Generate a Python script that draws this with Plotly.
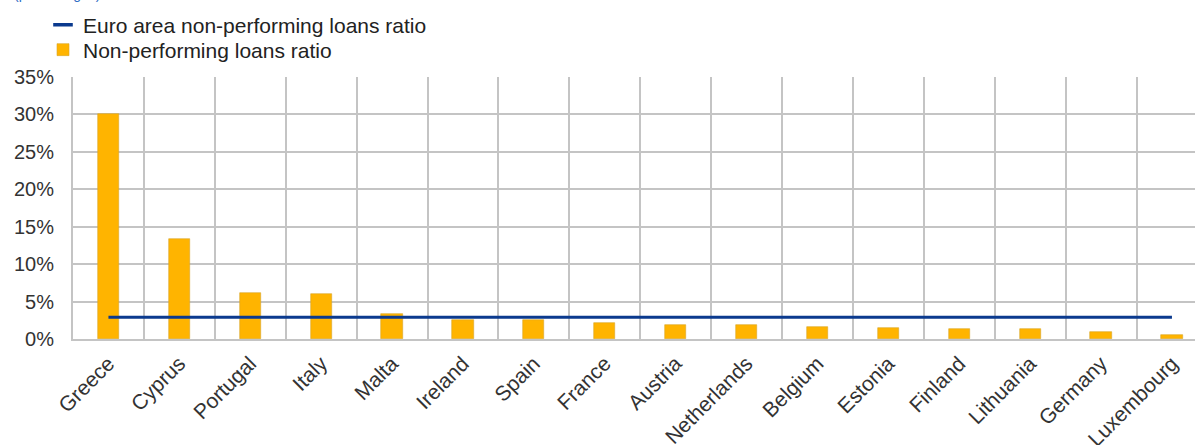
import plotly.graph_objects as go

# Non-performing loans ratio by country, with the euro area average
countries = ["Greece", "Cyprus", "Portugal", "Italy", "Malta", "Ireland", "Spain",
             "France", "Austria", "Netherlands", "Belgium", "Estonia", "Finland",
             "Lithuania", "Germany", "Luxembourg"]
npl_ratio = [30.0, 13.3, 6.2, 6.0, 3.3, 2.6, 2.6, 2.1, 1.9, 1.9, 1.6, 1.5, 1.3, 1.3, 1.0, 0.5]
euro_area_ratio = 2.9

y_tick_values = [0, 5, 10, 15, 20, 25, 30, 35]
y_tick_labels = ["0%", "5%", "10%", "15%", "20%", "25%", "30%", "35%"]

BAR_COLOR = "#FFB400"
LINE_COLOR = "#0B3A8E"
GRID_COLOR = "#C4C4C4"
TEXT_COLOR = "#333333"
FONT = "Liberation Sans, Arial, sans-serif"

W, H = 1195, 445
M_L, M_R, M_T, M_B = 73, 0, 77, 106
plot_w = W - M_L - M_R
plot_h = H - M_T - M_B
cat_px = 70.9  # width of one category slot

fig = go.Figure()

fig.add_trace(go.Bar(
    x=countries, y=npl_ratio, name="Non-performing loans ratio",
    width=0.3, marker=dict(color=BAR_COLOR, line=dict(color="#D9A62A", width=0.6)),
    legend="legend2",
))

fig.add_trace(go.Scatter(
    x=countries, y=[euro_area_ratio] * len(countries), mode="lines",
    line=dict(color=LINE_COLOR, width=3), showlegend=False,
))

# legend entry for the euro area line, drawn as a short dash
fig.add_trace(go.Scatter(
    x=[None], y=[None], mode="markers", name="Euro area non-performing loans ratio",
    marker=dict(symbol="line-ew", size=14, color=LINE_COLOR,
                line=dict(color=LINE_COLOR, width=3.5)),
    legend="legend",
))

legend_common = dict(
    xref="container", yref="container", xanchor="left", yanchor="middle",
    bgcolor="rgba(0,0,0,0)", borderwidth=0,
    font=dict(family=FONT, size=21, color="#222222"),
)

fig.update_layout(
    width=W, height=H,
    margin=dict(l=M_L, r=M_R, t=M_T, b=M_B, autoexpand=False),
    paper_bgcolor="white", plot_bgcolor="white",
    font=dict(family=FONT, size=20, color=TEXT_COLOR),
    bargap=0,
    legend=dict(x=43 / W, y=1 - 25 / H, **legend_common),
    legend2=dict(x=43 / W, y=1 - 50 / H, **legend_common),
    xaxis=dict(
        type="category",
        range=[-0.5, -0.5 + plot_w / cat_px],
        tickson="boundaries",
        showgrid=True, gridcolor=GRID_COLOR, gridwidth=2,
        showline=True, linecolor=GRID_COLOR, linewidth=2,
        ticks="", tickangle=-45, ticklabelstandoff=2,
        tickfont=dict(family=FONT, size=21, color=TEXT_COLOR),
    ),
    yaxis=dict(
        range=[0, 35], tickvals=y_tick_values, ticktext=y_tick_labels,
        showgrid=True, gridcolor=GRID_COLOR, gridwidth=2,
        showline=True, linecolor=GRID_COLOR, linewidth=2,
        zeroline=False, ticks="", ticklabelstandoff=13,
        tickfont=dict(family=FONT, size=20, color=TEXT_COLOR),
    ),
    annotations=[dict(
        text="(percentages)", xref="paper", yref="paper",
        x=(12 - M_L) / plot_w, y=1 + (M_T - 4) / plot_h,
        xanchor="left", yanchor="bottom", showarrow=False,
        font=dict(family=FONT, size=14, color="#2E6DC4"),
    )],
)

fig.write_html("out.html")
